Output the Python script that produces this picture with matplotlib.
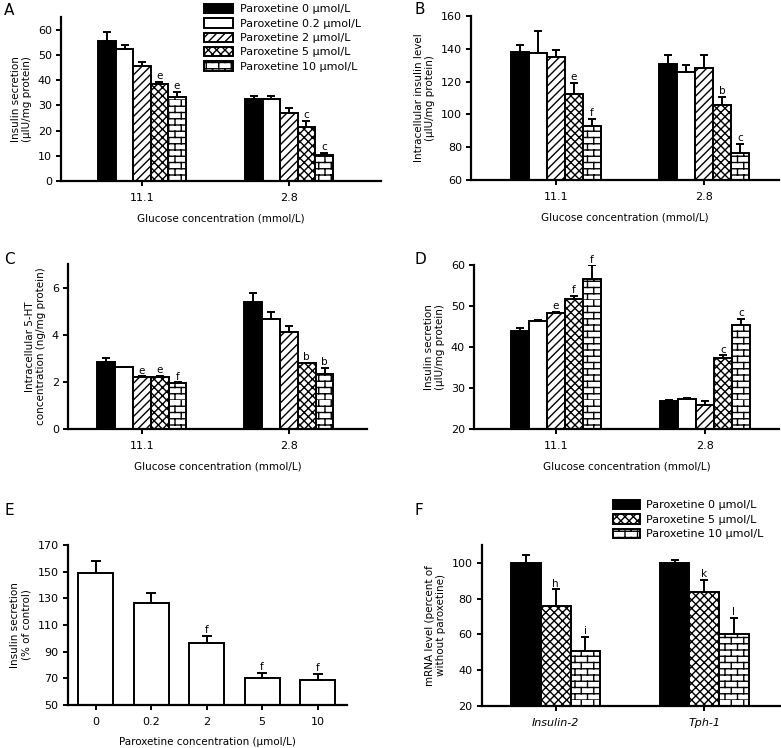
import warnings
import numpy as np
import matplotlib
matplotlib.use("Agg")
import matplotlib.pyplot as plt
import matplotlib.hatch as mhatch
from matplotlib.path import Path

warnings.filterwarnings("ignore")

# ---- data ----
dose_labels = ["Paroxetine 0 \u00b5mol/L", "Paroxetine 0.2 \u00b5mol/L",
               "Paroxetine 2 \u00b5mol/L", "Paroxetine 5 \u00b5mol/L",
               "Paroxetine 10 \u00b5mol/L"]
glucose_groups = ["11.1", "2.8"]

a_means = [[55.3, 52.2, 45.4, 38.4, 33.2], [32.4, 32.6, 26.8, 21.4, 10.3]]
a_errs = [[3.9, 1.7, 1.9, 1.0, 2.2], [1.3, 1.2, 2.0, 2.4, 0.9]]
a_marks = [["", "", "", "e", "e"], ["", "", "", "c", "c"]]

b_means = [[138.3, 137.5, 134.8, 112.5, 92.8], [131.0, 125.6, 128.4, 106.0, 76.2]]
b_errs = [[4.3, 13.5, 4.5, 6.9, 4.5], [5.2, 4.4, 7.8, 4.6, 5.8]]
b_marks = [["", "", "", "e", "f"], ["", "", "", "b", "c"]]

c_means = [[2.86, 2.62, 2.20, 2.20, 1.94], [5.40, 4.66, 4.10, 2.79, 2.33]]
c_errs = [[0.14, 0.0, 0.03, 0.06, 0.04], [0.35, 0.31, 0.27, 0.03, 0.26]]
c_marks = [["", "", "e", "e", "f"], ["", "", "", "b", "b"]]

d_means = [[43.9, 46.4, 48.2, 51.8, 56.7], [26.8, 27.3, 25.8, 37.2, 45.3]]
d_errs = [[0.8, 0.2, 0.3, 0.7, 3.2], [0.2, 0.3, 1.1, 0.8, 1.5]]
d_marks = [["", "", "e", "f", "f"], ["", "", "", "c", "c"]]

e_doses = ["0", "0.2", "2", "5", "10"]
e_means = [149.0, 126.8, 96.8, 70.0, 68.5]
e_errs = [9.0, 7.0, 5.0, 4.3, 4.8]
e_marks = ["", "", "f", "f", "f"]

f_genes = ["Insulin-2", "Tph-1"]
f_labels = ["Paroxetine 0 \u00b5mol/L", "Paroxetine 5 \u00b5mol/L",
            "Paroxetine 10 \u00b5mol/L"]
f_means = [[100.0, 75.9, 50.5], [100.0, 83.7, 60.5]]
f_errs = [[4.2, 9.3, 8.2], [1.7, 6.8, 8.8]]
f_marks = [["", "h", "i"], ["", "k", "l"]]


# ---- brick hatch ('b'), not shipped with matplotlib ----
class BrickHatch(mhatch.HatchPatternBase):
    def __init__(self, hatch, density):
        n = hatch.count("b")
        self.rows = 16 * n
        self.cols = 8 * n
        self.num_vertices = (2 * self.rows + 2 * self.rows * self.cols) if n else 0

    def set_vertices_and_codes(self, vertices, codes):
        k = 0
        for r in range(self.rows):
            y0 = r / self.rows
            y1 = (r + 1) / self.rows
            vertices[k] = (0.0, y0)
            vertices[k + 1] = (1.0, y0)
            codes[k] = Path.MOVETO
            codes[k + 1] = Path.LINETO
            k += 2
            shift = 0.5 * (r % 2)
            for c in range(self.cols):
                xv = ((c + shift) / self.cols) % 1.0
                vertices[k] = (xv, y0)
                vertices[k + 1] = (xv, y1)
                codes[k] = Path.MOVETO
                codes[k + 1] = Path.LINETO
                k += 2


mhatch._hatch_types.append(BrickHatch)

plt.rcParams["font.family"] = ["DejaVu Sans"]
plt.rcParams["hatch.linewidth"] = 1.0
plt.rcParams["hatch.color"] = "black"

W, H = 781, 748
fig = plt.figure(figsize=(W / 100, H / 100), dpi=100)

hatches5 = [None, None, "////", "xxxx", "b"]
colors5 = ["black", "white", "white", "white", "white"]


def px_rect(left, top, right, bottom):
    return [left / W, 1 - bottom / H, (right - left) / W, (bottom - top) / H]


def style_axes(ax, ylim, yticks, xlim):
    ax.set_ylim(*ylim)
    ax.set_yticks(yticks)
    ax.set_xlim(*xlim)
    for s in ["top", "right"]:
        ax.spines[s].set_visible(False)
    for s in ["left", "bottom"]:
        ax.spines[s].set_linewidth(1.6)
    ax.tick_params(width=1.4, length=3.5, labelsize=8, direction="out", pad=3)
    ax.tick_params(axis="x", pad=5)


def bar_panel(rect, means, errs, marks, hatches, colors, width, xlim, ylim,
              yticks, xticklabels, ylabel, xlabel, labels):
    ax = fig.add_axes(rect)
    means = np.array(means)
    errs = np.array(errs)
    ngrp, n = means.shape
    x = np.arange(ngrp)
    handles = []
    for i in range(n):
        xs = x + (i - (n - 1) / 2) * width
        h = ax.bar(xs, means[:, i], width, color=colors[i], edgecolor="black",
                   hatch=hatches[i], linewidth=1.4, label=labels[i],
                   yerr=[np.zeros(ngrp), errs[:, i]],
                   error_kw=dict(ecolor="black", elinewidth=1.4, capsize=3.2,
                                 capthick=1.4))
        handles.append(h)
        for j in range(ngrp):
            t = marks[j][i]
            if t:
                ax.annotate(t, (xs[j], means[j, i] + errs[j, i]), xytext=(0, 0.5),
                            textcoords="offset points", ha="center", va="bottom",
                            fontsize=7.5)
    style_axes(ax, ylim, yticks, xlim)
    ax.set_xticks(x)
    ax.set_xticklabels(xticklabels)
    ax.set_ylabel(ylabel, fontsize=7.5, labelpad=4)
    if xlabel:
        ax.set_xlabel(xlabel, fontsize=7.5, labelpad=8)
    return ax, handles


# A
axA, hA = bar_panel(px_rect(61, 17, 381, 181), a_means, a_errs, a_marks, hatches5,
                    colors5, 0.119, (-0.551, 1.626), (0, 65), range(0, 61, 10),
                    glucose_groups, "Insulin secretion\n(\u00b5IU/mg protein)",
                    "Glucose concentration (mmol/L)", dose_labels)
fig.legend(handles=hA, loc="upper left", bbox_to_anchor=(204 / W, 1 - 4 / H),
           frameon=False, fontsize=8, handlelength=2.6, handleheight=0.9,
           handletextpad=0.6, labelspacing=0.35, borderpad=0, borderaxespad=0)

# B
bar_panel(px_rect(471, 16, 779, 180), b_means, b_errs, b_marks, hatches5, colors5,
          0.121, (-0.571, 1.506), (60, 160), range(60, 161, 20), glucose_groups,
          "Intracellular insulin level\n(\u00b5IU/mg protein)",
          "Glucose concentration (mmol/L)", dose_labels)

# C
bar_panel(px_rect(68, 264, 367, 429), c_means, c_errs, c_marks, hatches5, colors5,
          0.122, (-0.501, 1.533), (0, 7), [0, 2, 4, 6], glucose_groups,
          "Intracellular 5-HT\nconcentration (ng/mg protein)",
          "Glucose concentration (mmol/L)", dose_labels)

# D
bar_panel(px_rect(474, 265, 779, 429), d_means, d_errs, d_marks, hatches5, colors5,
          0.121, (-0.547, 1.496), (20, 60), range(20, 61, 10), glucose_groups,
          "Insulin secretion\n(\u00b5IU/mg protein)",
          "Glucose concentration (mmol/L)", dose_labels)

# E
axE = fig.add_axes(px_rect(67.7, 545, 347, 705))
xe = np.arange(len(e_doses))
axE.bar(xe, e_means, 0.63, color="white", edgecolor="black", linewidth=1.4,
        yerr=[np.zeros(len(xe)), e_errs],
        error_kw=dict(ecolor="black", elinewidth=1.4, capsize=3.6, capthick=1.4))
for xx, m, e, t in zip(xe, e_means, e_errs, e_marks):
    if t:
        axE.annotate(t, (xx, m + e), xytext=(0, 0.5), textcoords="offset points",
                     ha="center", va="bottom", fontsize=7.5)
style_axes(axE, (50, 170), range(50, 171, 20), (-0.505, 4.53))
axE.set_xticks(xe)
axE.set_xticklabels(e_doses)
axE.set_ylabel("Insulin secretion\n(% of control)", fontsize=7.5, labelpad=4)
axE.set_xlabel("Paroxetine concentration (\u00b5mol/L)", fontsize=7.5, labelpad=7)

# F
axF, hF = bar_panel(px_rect(481.7, 545, 780, 706), f_means, f_errs, f_marks,
                    ["", "xxxx", "b"], ["black", "white", "white"], 0.2,
                    (-0.498, 1.51), (20, 110), range(20, 101, 20), f_genes,
                    "mRNA level (percent of\nwithout paroxetine)", None, f_labels)
for lab in axF.get_xticklabels():
    lab.set_fontstyle("italic")
fig.legend(handles=hF, loc="upper left", bbox_to_anchor=(613 / W, 1 - 500 / H),
           frameon=False, fontsize=8, handlelength=2.4, handleheight=0.9,
           handletextpad=0.6, labelspacing=0.35, borderpad=0, borderaxespad=0)

# panel letters
for letter, px, py in [("A", 4, 3), ("B", 415, 2), ("C", 4, 252),
                       ("D", 415, 252), ("E", 4, 503), ("F", 415, 503)]:
    fig.text(px / W, 1 - py / H, letter, fontsize=11, va="top", ha="left")

fig.savefig("out.png", dpi=100)
